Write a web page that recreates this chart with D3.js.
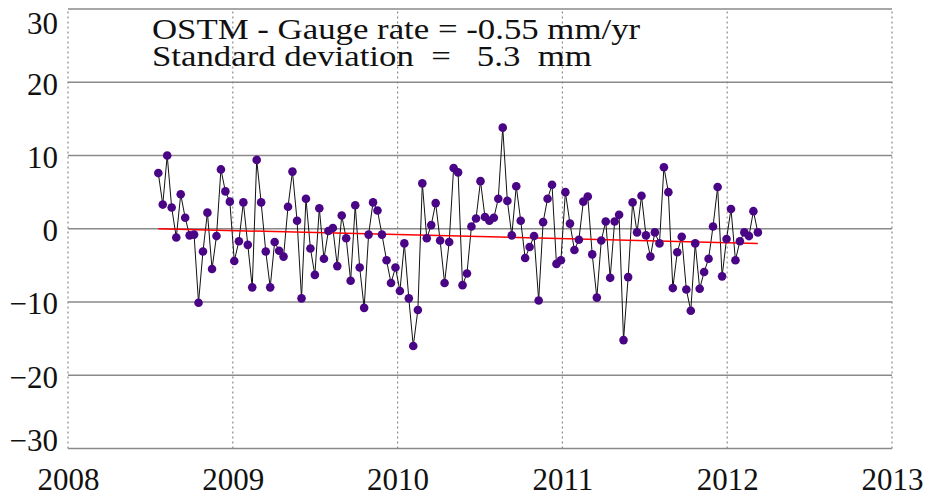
<!DOCTYPE html>
<html>
<head>
<meta charset="utf-8">
<script src="https://cdn.jsdelivr.net/npm/d3@7"></script>
<style>
  body { margin: 0; background: #fff; }
  svg text { font-family: "Liberation Serif", "DejaVu Serif", serif; fill: #111; }
</style>
</head>
<body>
<svg id="chart" width="929" height="496"></svg>
<script>
// decimal year of each 10-day cycle
var years = [
  2008.548, 2008.575, 2008.602, 2008.629, 2008.657, 2008.684, 2008.711, 2008.738, 2008.765, 2008.792,
  2008.819, 2008.846, 2008.874, 2008.901, 2008.928, 2008.955, 2008.982, 2009.009, 2009.037, 2009.064,
  2009.091, 2009.118, 2009.145, 2009.172, 2009.200, 2009.227, 2009.254, 2009.281, 2009.308, 2009.335,
  2009.362, 2009.390, 2009.417, 2009.444, 2009.471, 2009.498, 2009.525, 2009.553, 2009.580, 2009.607,
  2009.634, 2009.661, 2009.688, 2009.715, 2009.743, 2009.770, 2009.797, 2009.824, 2009.851, 2009.878,
  2009.905, 2009.933, 2009.960, 2009.987, 2010.014, 2010.041, 2010.068, 2010.095, 2010.123, 2010.150,
  2010.177, 2010.204, 2010.231, 2010.258, 2010.285, 2010.313, 2010.340, 2010.367, 2010.394, 2010.421,
  2010.448, 2010.476, 2010.503, 2010.530, 2010.557, 2010.584, 2010.611, 2010.638, 2010.666, 2010.693,
  2010.720, 2010.747, 2010.774, 2010.801, 2010.828, 2010.856, 2010.883, 2010.910, 2010.937, 2010.964,
  2010.991, 2011.018, 2011.046, 2011.073, 2011.100, 2011.127, 2011.154, 2011.181, 2011.209, 2011.236,
  2011.263, 2011.290, 2011.317, 2011.344, 2011.371, 2011.399, 2011.426, 2011.453, 2011.480, 2011.507,
  2011.534, 2011.561, 2011.589, 2011.616, 2011.643, 2011.670, 2011.697, 2011.724, 2011.752, 2011.779,
  2011.806, 2011.833, 2011.860, 2011.887, 2011.914, 2011.942, 2011.969, 2011.996, 2012.023, 2012.050,
  2012.077, 2012.104, 2012.132, 2012.159, 2012.186
];
// OSTM minus gauge difference (mm)
var diffs = [
   7.6,  3.3, 10.0,  2.9, -1.2,  4.7,  1.5, -0.9, -0.8, -10.1,
  -3.1,  2.2, -5.5, -1.0,  8.1,  5.1,  3.7, -4.4, -1.7,  3.6,
  -2.2, -8.0,  9.4,  3.6, -3.1, -8.0, -1.8, -3.0, -3.8,  3.0,
   7.8,  1.1, -9.5,  4.1, -2.7, -6.3,  2.8, -4.1, -0.3,  0.1,
  -5.1,  1.8, -1.3, -7.1,  3.2, -5.3, -10.8, -0.8, 3.6,  2.5,
  -0.8, -4.3, -7.4, -5.3, -8.5, -2.0, -9.5, -16.0, -11.1, 6.2,
  -1.3,  0.5,  3.5, -1.6, -7.4, -1.8,  8.3,  7.7, -7.7, -6.1,
   0.3,  1.4,  6.5,  1.6,  1.1,  1.5,  4.1, 13.8,  3.8, -0.9,
   5.8,  1.1, -4.0, -2.5, -1.0, -9.8,  0.9,  4.1,  6.0, -4.8,
  -4.3,  5.0,  0.7, -2.9, -1.5,  3.7,  4.4, -3.5, -9.4, -1.6,
   1.0, -6.7,  1.0,  1.9, -15.2, -6.6, 3.6, -0.5,  4.5, -0.9,
  -3.8, -0.5, -2.0,  8.4,  5.0, -8.1, -3.2, -1.1, -8.3, -11.2,
  -2.0, -8.2, -5.9, -4.1,  0.3,  5.7, -6.5, -1.4,  2.7, -4.3,
  -1.7, -0.5, -1.0,  2.4, -0.5
];
// linear fit end points
var trendYears = [2008.548, 2012.186];
var trendVals = [0.0, -2.0];

var xTicks = [2008, 2009, 2010, 2011, 2012, 2013];
var yTicks = [-30, -20, -10, 0, 10, 20, 30];
var titleLines = ["OSTM - Gauge rate = -0.55 mm/yr", "Standard deviation  =   5.3  mm"];

var width = 929, height = 496,
    margin = {left: 68, right: 37, top: 9, bottom: 47.5};

var svg = d3.select("#chart");

var x = d3.scaleLinear().domain([2008, 2013]).range([margin.left, width - margin.right]);
var y = d3.scaleLinear().domain([-30, 30]).range([height - margin.bottom, margin.top]);

// Grid: solid horizontal, dotted vertical
var grid = svg.append("g").classed("grid", true);
grid.selectAll("line.h")
  .data(yTicks)
  .enter().append("line")
  .attr("x1", x.range()[0]).attr("x2", x.range()[1])
  .attr("y1", d => y(d)).attr("y2", d => y(d))
  .style("stroke", "#8a8a8a").style("stroke-width", 1.6);
grid.selectAll("line.v")
  .data(xTicks)
  .enter().append("line")
  .attr("x1", d => x(d)).attr("x2", d => x(d))
  .attr("y1", y.range()[0]).attr("y2", y.range()[1])
  .style("stroke", "#8a8a8a").style("stroke-width", 1.2)
  .style("stroke-dasharray", "2,3");

// Axes labels only (end labels kept inside the frame)
svg.append("g")
  .classed("yaxis", true)
  .attr("transform", "translate(" + margin.left + ",0)")
  .call(d3.axisLeft(y).tickValues(yTicks).tickSize(0).tickPadding(10).tickFormat(d3.format("d")))
  .call(g => g.select(".domain").remove())
  .selectAll("text")
  .style("font-size", "31px").style("font-family", "Liberation Serif")
  .attr("transform", d => "translate(0," + (d === 30 ? 15 : d === -30 ? -8 : 2) + ")");
svg.append("g")
  .classed("xaxis", true)
  .attr("transform", "translate(0," + (height - margin.bottom) + ")")
  .call(d3.axisBottom(x).tickValues(xTicks).tickSize(0).tickPadding(19).tickFormat(d3.format("d")))
  .call(g => g.select(".domain").remove())
  .selectAll("text")
  .style("font-size", "31px").style("font-family", "Liberation Serif");

// Series line
var pts = years.map((t, i) => [t, diffs[i]]);
svg.append("path")
  .attr("d", d3.line().x(d => x(d[0])).y(d => y(d[1]))(pts))
  .style("fill", "none").style("stroke", "#111").style("stroke-width", 1);

// Trend
svg.append("path")
  .attr("d", d3.line().x(d => x(d[0])).y(d => y(d[1]))(trendYears.map((t, i) => [t, trendVals[i]])))
  .style("fill", "none").style("stroke", "#ff0000").style("stroke-width", 1.5);

// Points
svg.append("g").selectAll("circle")
  .data(pts)
  .enter().append("circle")
  .attr("cx", d => x(d[0])).attr("cy", d => y(d[1]))
  .attr("r", 4.3)
  .style("fill", "#4a0586");

// Title (drawn wide, as in the original)
svg.append("g").selectAll("text")
  .data(titleLines)
  .enter().append("text")
  .attr("transform", (d, i) => "translate(152," + (39 + i * 27) + ") scale(1.2,1)")
  .attr("xml:space", "preserve")
  .style("white-space", "pre")
  .style("font-size", "29px")
  .text(d => d);
</script>
</body>
</html>
